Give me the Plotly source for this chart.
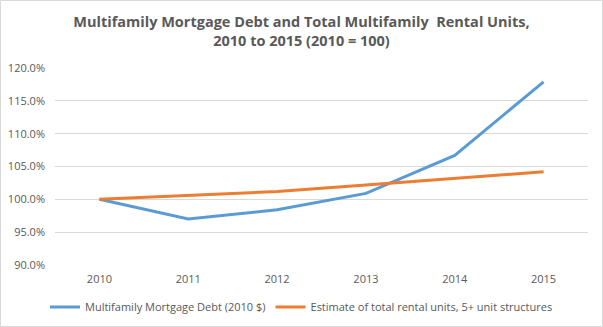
import plotly.graph_objects as go

years = ["2010", "2011", "2012", "2013", "2014", "2015"]
mortgage_debt = [100.0, 97.0, 98.4, 100.9, 106.7, 117.9]
rental_units = [100.0, 100.6, 101.2, 102.2, 103.2, 104.2]

W, H = 603, 327
L, R, T, B = 55, 15, 68, 62
pw, ph = W - L - R, H - T - B

fig = go.Figure()
fig.add_trace(go.Scatter(
    x=years, y=mortgage_debt, mode="lines",
    name="Multifamily Mortgage Debt (2010 $)",
    line=dict(color="#5B9BD5", width=3),
))
fig.add_trace(go.Scatter(
    x=years, y=rental_units, mode="lines",
    name="Estimate of total rental units, 5+ unit structures",
    line=dict(color="#ED7D31", width=3),
))

# light border around the whole chart
fig.add_shape(
    type="rect", xref="paper", yref="paper",
    x0=(0.5 - L) / pw, x1=(W - 0.5 - L) / pw,
    y0=-(B - 0.5) / ph, y1=(ph + T - 0.5) / ph,
    line=dict(color="#D9D9D9", width=1),
)

fig.update_layout(
    width=W, height=H,
    margin=dict(l=L, r=R, t=T, b=B, autoexpand=False),
    paper_bgcolor="white", plot_bgcolor="white",
    font=dict(family="Open Sans", color="#595959", size=11),
    title=dict(
        text="Multifamily Mortgage Debt and Total Multifamily  Rental Units,<br>2010 to 2015 (2010 = 100)",
        x=0.5, xref="container", xanchor="center",
        y=1 - 27 / H, yref="container", yanchor="middle",
        font=dict(family="Open Sans", size=14.5, color="#595959", weight="bold"),
    ),
    xaxis=dict(
        type="category", showgrid=False, zeroline=False, showline=False,
        ticks="", tickfont=dict(size=11, color="#595959"),
        ticklabelstandoff=6,
        range=[-0.5, 5.5],
    ),
    yaxis=dict(
        range=[90, 120], dtick=5, tickformat=".1f", ticksuffix="%",
        showgrid=True, gridcolor="#D9D9D9", gridwidth=1,
        zeroline=False, showline=False, ticks="",
        ticklabelstandoff=9,
        tickfont=dict(size=11, color="#595959"),
    ),
    legend=dict(
        orientation="h", x=0.5, xref="container", xanchor="center",
        y=1 - 307 / H, yref="container", yanchor="middle",
        font=dict(size=11, color="#595959"), itemwidth=30,
        tracegroupgap=0,
    ),
    showlegend=True,
)

fig.write_html("out.html")
